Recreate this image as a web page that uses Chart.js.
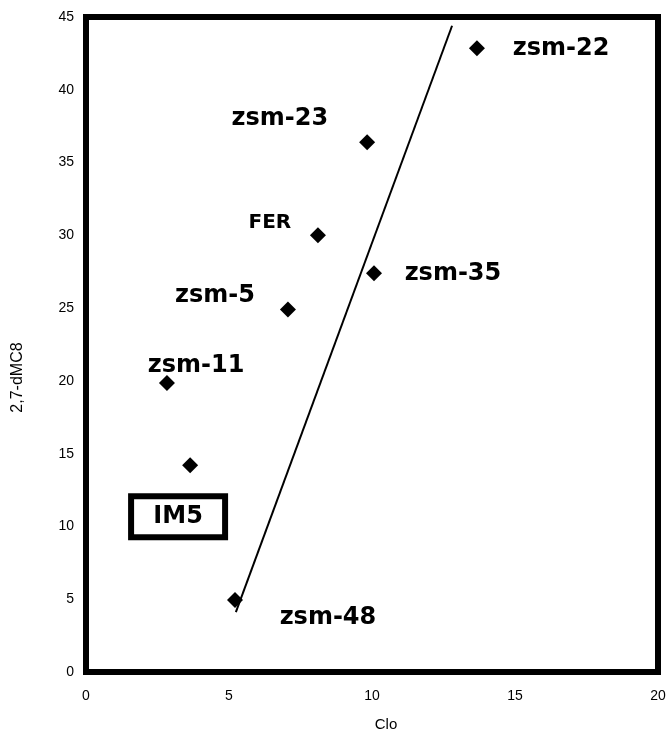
<!DOCTYPE html>
<html lang="en">
<head>
    <meta charset="UTF-8">
    <title>2,7-dMC8 vs Clo</title>
    <script src="https://cdn.jsdelivr.net/npm/chart.js"></script>
    <style>
        body { margin: 0; background: #fff; }
        #wrap { width: 670px; height: 733px; }
    </style>
</head>
<body>
    <div id="wrap"><canvas id="grafico" width="670" height="733"></canvas></div>

    <script>
        // Zeoliti: valori Clo (x) e 2,7-dMC8 (y)
        const nomi  = ['zsm-22', 'zsm-23', 'FER', 'zsm-35', 'zsm-5', 'zsm-11', 'IM5', 'zsm-48'];
        const cloX  = [13.67, 9.83, 8.11, 10.07, 7.06, 2.83, 3.64, 5.21];
        const dmcY  = [42.86, 36.4, 30.0, 27.4, 24.9, 19.85, 14.2, 4.95];

        // Retta di tendenza (due estremi)
        const rettaX = [5.24, 12.80];
        const rettaY = [4.12, 44.4];

        // Posizione delle etichette (in unita' degli assi)
        const etichX = [16.61, 6.78, 6.43, 12.83, 4.51, 3.85, 3.22, 8.46];
        const etichY = [42.86, 38.05, 30.9, 27.4, 25.9, 21.1, 10.7, 3.78];
        const etichSize = [24, 24, 20, 24, 24, 24, 24, 24];
        const etichBox  = [false, false, false, false, false, false, true, false];

        const xTicks = [0, 5, 10, 15, 20];
        const yTicks = [0, 5, 10, 15, 20, 25, 30, 35, 40, 45];
        const titoloX = 'Clo';
        const titoloY = '2,7-dMC8';

        const punti = cloX.map((x, i) => ({ x: x, y: dmcY[i] }));
        const retta = rettaX.map((x, i) => ({ x: x, y: rettaY[i] }));

        // Bordo spesso attorno all'area del grafico, etichette e titoli degli assi
        const bordoEtichette = {
            id: 'bordoEtichette',
            afterDatasetsDraw(chart) {
                const ctx = chart.ctx;
                const a = chart.chartArea;
                const sx = chart.scales.x, sy = chart.scales.y;
                ctx.save();
                ctx.strokeStyle = '#000';
                ctx.lineWidth = 6;
                ctx.strokeRect(a.left, a.top, a.right - a.left, a.bottom - a.top);

                ctx.fillStyle = '#000';
                ctx.textAlign = 'center';
                ctx.textBaseline = 'middle';
                nomi.forEach((n, i) => {
                    const px = sx.getPixelForValue(etichX[i]);
                    const py = sy.getPixelForValue(etichY[i]);
                    ctx.font = 'bold ' + etichSize[i] + 'px "DejaVu Sans"';
                    ctx.fillText(n, px, py + 1);
                    if (etichBox[i]) {
                        ctx.lineWidth = 6;
                        ctx.strokeRect(px - 47, py - 20, 94, 41);
                    }
                });

                // titoli degli assi (leggermente spostati come nell'originale)
                ctx.font = '15px Arial';
                ctx.fillText(titoloX, (a.left + a.right) / 2 + 14, chart.height - 8);
                ctx.translate(18, (a.top + a.bottom) / 2 + 33);
                ctx.rotate(-Math.PI / 2);
                ctx.font = '16px Arial';
                ctx.fillText(titoloY, 0, 0);
                ctx.restore();
            }
        };

        const ctx = document.getElementById('grafico').getContext('2d');
        const chart = new Chart(ctx, {
            type: 'scatter',
            data: {
                datasets: [{
                    label: 'Zeoliti',
                    data: punti,
                    pointStyle: 'rectRot',
                    pointRadius: 8,
                    backgroundColor: '#000',
                    borderColor: '#000',
                    borderWidth: 0
                }, {
                    type: 'line',
                    label: 'Retta',
                    data: retta,
                    borderColor: '#000',
                    borderWidth: 2,
                    pointRadius: 0,
                    fill: false
                }]
            },
            options: {
                responsive: false,
                animation: false,
                layout: { padding: { top: 17, right: 12, left: 0, bottom: 0 } },
                plugins: {
                    legend: { display: false },
                    tooltip: { enabled: false }
                },
                scales: {
                    x: {
                        type: 'linear',
                        min: 0, max: 20,
                        afterBuildTicks: (s) => { s.ticks = xTicks.map(v => ({ value: v })); },
                        afterFit: (s) => { s.height = 61; s.paddingLeft = 0; s.paddingRight = 0; },
                        grid: { display: false, drawTicks: false },
                        border: { display: false },
                        ticks: { padding: 16, maxRotation: 0, color: '#000', font: { family: 'Arial', size: 14 } },
                        title: { display: false }
                    },
                    y: {
                        type: 'linear',
                        min: 0, max: 45,
                        afterBuildTicks: (s) => { s.ticks = yTicks.map(v => ({ value: v })); },
                        afterFit: (s) => { s.width = 86; s.paddingTop = 0; s.paddingBottom = 0; },
                        grid: { display: false, drawTicks: false },
                        border: { display: false },
                        ticks: { padding: 12, color: '#000', font: { family: 'Arial', size: 14 } },
                        title: { display: false }
                    }
                }
            },
            plugins: [bordoEtichette]
        });
    </script>
</body>
</html>
